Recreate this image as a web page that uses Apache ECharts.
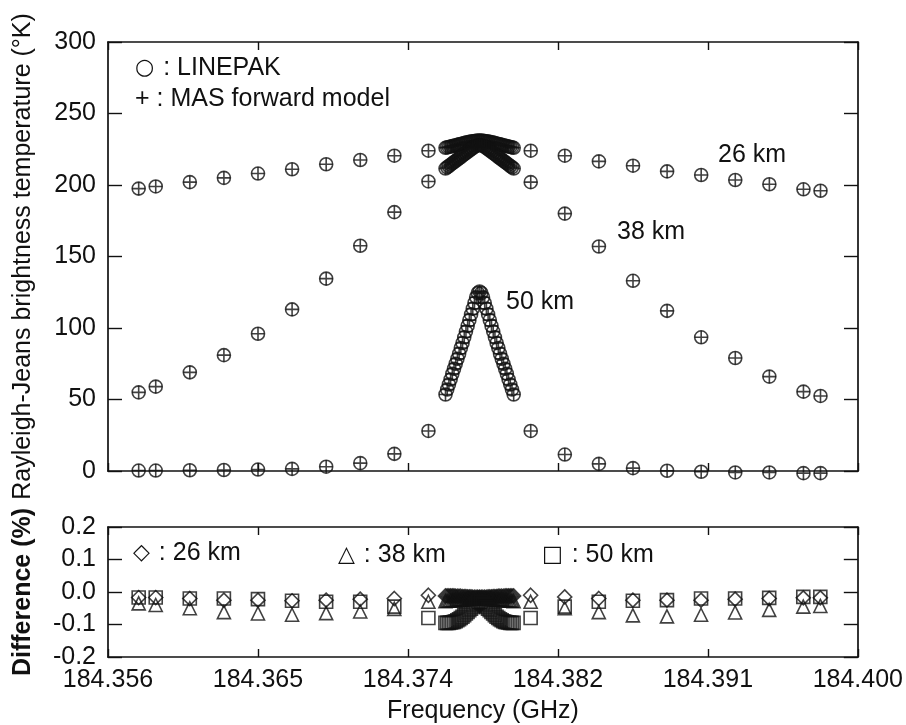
<!DOCTYPE html>
<html><head><meta charset="utf-8">
<script src="https://cdn.jsdelivr.net/npm/echarts@6/dist/echarts.min.js"></script>
<style>html,body{margin:0;padding:0;background:#fff}#c{width:906px;height:725px}</style>
</head><body><div id="c"></div>
<script>
// ---- data ----
const lineCenterGHz = 184.3778;   // O3 line centre
const axisStartGHz = 184.356;     // x axis starts here
// frequency offsets from line centre (MHz)
const offsetsMHz = [
  -20, -19, -17, -15, -13, -11, -9, -7, -5, -3,
  -2.0, -1.9, -1.8, -1.7, -1.6, -1.5, -1.4, -1.3, -1.2, -1.1,
  -1.0, -0.9, -0.8, -0.7, -0.6, -0.5, -0.4, -0.3, -0.2, -0.1,
  0.0,
  0.1, 0.2, 0.3, 0.4, 0.5, 0.6, 0.7, 0.8, 0.9, 1.0,
  1.1, 1.2, 1.3, 1.4, 1.5, 1.6, 1.7, 1.8, 1.9, 2.0,
  3, 5, 7, 9, 11, 13, 15, 17, 19, 20
];
// brightness temperature (K)
const tb26km = [
  197.5, 199, 202, 205, 208, 211, 214.5, 217.5, 220.5, 224,
  226.0, 226.3, 226.6, 226.9, 227.2, 227.5, 227.8, 228.1, 228.4, 228.7,
  229.0, 229.3, 229.6, 229.9, 230.2, 230.4, 230.6, 230.8, 230.9, 231.0,
  231.0,
  231.0, 230.9, 230.8, 230.6, 230.4, 230.2, 229.9, 229.6, 229.3, 229.0,
  228.7, 228.4, 228.1, 227.8, 227.5, 227.2, 226.9, 226.6, 226.3, 226.0,
  224, 220.5, 216.5, 213.5, 209.5, 207, 203.5, 200.5, 197, 196
];
const tb38km = [
  55, 59, 69, 81, 96, 113, 134.5, 157.5, 181, 202.5,
  211.5, 212.4, 213.3, 214.2, 215.1, 216.0, 216.9, 217.8, 218.7, 219.6,
  220.5, 221.4, 222.3, 223.2, 224.1, 225.0, 225.8, 226.6, 227.3, 227.8,
  228.0,
  227.8, 227.3, 226.6, 225.8, 225.0, 224.1, 223.2, 222.3, 221.4, 220.5,
  219.6, 218.7, 217.8, 216.9, 216.0, 215.1, 214.2, 213.3, 212.4, 211.5,
  202, 180, 157, 133, 112, 93.5, 79, 66, 55.5, 52.5
];
const tb50km = [
  0.3, 0.3, 0.5, 0.7, 1.0, 1.5, 3.0, 5.5, 12, 28,
  53.5, 57, 60.5, 64, 68, 71.5, 75, 78.5, 82, 86,
  89.5, 93.5, 97.5, 101.5, 105.5, 109.5, 113.5, 117.5, 121.5, 124.5,
  125.5,
  124.5, 121.5, 117.5, 113.5, 109.5, 105.5, 101.5, 97.5, 93.5, 89.5,
  86, 82, 78.5, 75, 71.5, 68, 64, 60.5, 57, 53.5,
  28, 11.5, 5, 2, 0.2, -0.5, -1, -1, -1.5, -1.5
];
// difference LINEPAK vs MAS (%)
const diff26km = [
  -0.017, -0.017, -0.02, -0.025, -0.025, -0.027, -0.025, -0.022, -0.02, -0.01,
  -0.012, -0.012, -0.012, -0.012, -0.012, -0.012, -0.013, -0.013, -0.013, -0.013,
  -0.014, -0.014, -0.014, -0.015, -0.015, -0.015, -0.016, -0.016, -0.016, -0.016,
  -0.016,
  -0.016, -0.016, -0.016, -0.016, -0.015, -0.015, -0.015, -0.014, -0.014, -0.014,
  -0.013, -0.013, -0.013, -0.013, -0.012, -0.012, -0.012, -0.012, -0.012, -0.012,
  -0.01, -0.015, -0.02, -0.025, -0.025, -0.025, -0.022, -0.02, -0.018, -0.018
];
const diff38km = [
  -0.035, -0.04, -0.05, -0.062, -0.066, -0.07, -0.065, -0.06, -0.052, -0.03,
  -0.028, -0.027, -0.027, -0.026, -0.026, -0.025, -0.025, -0.024, -0.024, -0.023,
  -0.023, -0.022, -0.022, -0.021, -0.021, -0.020, -0.020, -0.019, -0.019, -0.018,
  -0.018,
  -0.018, -0.019, -0.019, -0.020, -0.020, -0.021, -0.021, -0.022, -0.022, -0.023,
  -0.023, -0.024, -0.024, -0.025, -0.025, -0.026, -0.026, -0.027, -0.027, -0.028,
  -0.03, -0.05, -0.062, -0.072, -0.075, -0.07, -0.063, -0.055, -0.045, -0.043
];
const diff50km = [
  -0.017, -0.017, -0.02, -0.02, -0.022, -0.027, -0.03, -0.03, -0.045, -0.08,
  -0.095, -0.095, -0.095, -0.094, -0.093, -0.092, -0.090, -0.087, -0.084, -0.080,
  -0.076, -0.071, -0.066, -0.061, -0.056, -0.051, -0.046, -0.041, -0.036, -0.032,
  -0.030,
  -0.032, -0.036, -0.041, -0.046, -0.051, -0.056, -0.061, -0.066, -0.071, -0.076,
  -0.080, -0.084, -0.087, -0.090, -0.092, -0.093, -0.094, -0.095, -0.095, -0.095,
  -0.08, -0.045, -0.03, -0.027, -0.025, -0.02, -0.02, -0.018, -0.015, -0.015
];
const xTickLabels = ['184.356', '184.365', '184.374', '184.382', '184.391', '184.400'];
const tbTickLabels = ['0', '50', '100', '150', '200', '250', '300'];
const diffTickLabels = ['-0.2', '-0.1', '0.0', '0.1', '0.2'];

// ---- chart ----
const FONT = 'Liberation Sans, Arial, Helvetica, sans-serif';
const INK = '#111';
const centerOffsetMHz = (lineCenterGHz - axisStartGHz) * 1000;
function pts(vals) { return offsetsMHz.map((o, i) => [centerOffsetMHz + o, vals[i]]); }

const hollow = { color: 'rgba(0,0,0,0)', borderColor: INK, borderWidth: 1.6 };
const plusPath = 'path://M0,5L10,5M5,0L5,10';

function xAx(grid, pos, labels, extra) {
  return Object.assign({
    type: 'value', gridIndex: grid, position: pos, min: 0, max: 44, interval: 8.8,
    axisLine: { show: true, onZero: false, lineStyle: { color: INK, width: 1.7 } },
    axisTick: { show: true, inside: true, length: 8, lineStyle: { color: INK, width: 1.4 } },
    axisLabel: {
      show: labels, margin: 11, fontSize: 25, fontFamily: FONT, color: INK,
      formatter: v => xTickLabels[Math.round(v / 8.8)]
    },
    splitLine: { show: false }
  }, extra || {});
}
function yAx(grid, pos, min, max, interval, labels, tickLabels, extra) {
  return Object.assign({
    type: 'value', gridIndex: grid, position: pos, min: min, max: max, interval: interval,
    axisLine: { show: true, onZero: false, lineStyle: { color: INK, width: 1.7 } },
    axisTick: { show: true, inside: true, length: 14, lineStyle: { color: INK, width: 1.4 } },
    axisLabel: {
      show: labels, margin: 12, fontSize: 25, fontFamily: FONT, color: INK,
      formatter: v => tickLabels[Math.round((v - min) / interval)]
    },
    splitLine: { show: false }
  }, extra || {});
}

function scat(name, xi, yi, vals, symbol, size) {
  return {
    name: name, type: 'scatter', xAxisIndex: xi, yAxisIndex: yi,
    data: pts(vals), symbol: symbol, symbolSize: size, clip: false,
    itemStyle: hollow, emphasis: { disabled: true }, silent: true
  };
}

const label = (t, x, y) => ({
  type: 'text', x: x, y: y, silent: true,
  style: {
    text: t, font: '25px ' + FONT, fill: INK, verticalAlign: 'middle', align: 'left',
    rich: { s: { fontSize: 22, fontFamily: 'DejaVu Sans', fill: INK, padding: [0, 2, 0, 0] } }
  }
});

const chart = echarts.init(document.getElementById('c'), null, { renderer: 'canvas' });
chart.setOption({
  animation: false,
  backgroundColor: '#fff',
  grid: [
    { left: 108, width: 750, top: 42, height: 429 },
    { left: 108, width: 750, top: 527, height: 133 }
  ],
  xAxis: [
    xAx(0, 'bottom', false),
    xAx(0, 'top', false),
    xAx(1, 'bottom', true, {
      name: 'Frequency (GHz)', nameLocation: 'middle', nameGap: 42,
      nameTextStyle: { fontSize: 25, fontFamily: FONT, color: INK }
    }),
    xAx(1, 'top', false)
  ],
  yAxis: [
    yAx(0, 'left', 0, 300, 50, true, tbTickLabels, {
      name: 'Rayleigh-Jeans brightness temperature (°K)', nameLocation: 'middle', nameGap: 72,
      nameTextStyle: { fontSize: 25, fontFamily: FONT, color: INK }
    }),
    yAx(0, 'right', 0, 300, 50, false, tbTickLabels),
    yAx(1, 'left', -0.2, 0.2, 0.1, true, diffTickLabels, {
      name: 'Difference (%)', nameLocation: 'middle', nameGap: 72,
      nameTextStyle: { fontSize: 25, fontFamily: FONT, color: INK, fontWeight: 'bold' }
    }),
    yAx(1, 'right', -0.2, 0.2, 0.1, false, diffTickLabels)
  ],
  series: [
    scat('LINEPAK 26 km', 0, 0, tb26km, 'circle', 13),
    scat('MAS 26 km', 0, 0, tb26km, plusPath, 13),
    scat('LINEPAK 38 km', 0, 0, tb38km, 'circle', 13),
    scat('MAS 38 km', 0, 0, tb38km, plusPath, 13),
    scat('LINEPAK 50 km', 0, 0, tb50km, 'circle', 13),
    scat('MAS 50 km', 0, 0, tb50km, plusPath, 13),
    scat('26 km', 2, 2, diff26km, 'diamond', 14),
    scat('38 km', 2, 2, diff38km, 'triangle', 13),
    scat('50 km', 2, 2, diff50km, 'rect', 13)
  ],
  graphic: [
    label('{s|○} : LINEPAK', 135, 68),
    label('+ : MAS forward model', 135, 99),
    label('26 km', 718, 155),
    label('38 km', 617, 232),
    label('50 km', 506, 302),
    label('{s|◇} : 26 km', 133, 553),
    label('{s|△} : 38 km', 338, 555),
    label('{s|□} : 50 km', 542, 555)
  ]
});
</script>
</body></html>
